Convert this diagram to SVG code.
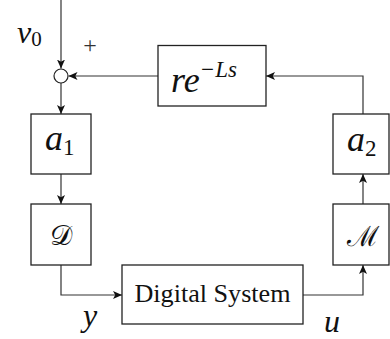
<svg xmlns="http://www.w3.org/2000/svg" width="390" height="339" viewBox="0 0 390 339">
<defs>
<marker id="ah" markerUnits="userSpaceOnUse" viewBox="0 0 9 8" refX="9" refY="4" markerWidth="9" markerHeight="8" orient="auto">
<path d="M0,0 L9,4 L0,8 L2.2,4 Z" fill="#111"/>
</marker>
</defs>
<rect width="390" height="339" fill="#fff"/>
<g id="connectors" fill="none" stroke="#333" stroke-width="1.2">
<path d="M61,0 V68.5" marker-end="url(#ah)"/>
<path d="M363,114 V76 H266" marker-end="url(#ah)"/>
<path d="M158,76 H68.5" marker-end="url(#ah)"/>
<path d="M61,83 V114" marker-end="url(#ah)"/>
<path d="M61,174 V204" marker-end="url(#ah)"/>
<path d="M61,265 V295 H122" marker-end="url(#ah)"/>
<path d="M303,295 H363 V265" marker-end="url(#ah)"/>
<path d="M363,204 V174" marker-end="url(#ah)"/>
</g>
<g id="sum">
<circle cx="61" cy="76" r="7" fill="#fff" stroke="#222" stroke-width="1.2"/>
</g>
<g id="delay">
<rect x="158" y="45.5" width="108" height="60.5" fill="#fff" stroke="#222" stroke-width="1.3"/>
<text x="171" y="92" font-family="Liberation Serif" font-style="italic" font-size="36" fill="#111">re<tspan dy="-15" font-size="23">−Ls</tspan></text>
</g>
<g id="a1">
<rect x="31" y="114" width="60" height="60" fill="#fff" stroke="#222" stroke-width="1.3"/>
<text x="45" y="150" font-family="Liberation Serif" font-style="italic" font-size="36" fill="#111">a<tspan dy="5" font-style="normal" font-size="23">1</tspan></text>
</g>
<g id="D">
<rect x="31" y="204" width="60" height="61" fill="#fff" stroke="#222" stroke-width="1.3"/>
<text x="61" y="245" text-anchor="middle" font-family="Liberation Serif" font-size="28" fill="#111">𝒟</text>
</g>
<g id="a2">
<rect x="333" y="114" width="56" height="60" fill="#fff" stroke="#222" stroke-width="1.3"/>
<text x="347" y="151" font-family="Liberation Serif" font-style="italic" font-size="36" fill="#111">a<tspan dy="5" font-style="normal" font-size="23">2</tspan></text>
</g>
<g id="M">
<rect x="333" y="204" width="56" height="61" fill="#fff" stroke="#222" stroke-width="1.3"/>
<text x="363" y="246" text-anchor="middle" font-family="Liberation Serif" font-size="28" fill="#111">ℳ</text>
</g>
<g id="ds">
<rect x="122" y="265" width="181" height="59" fill="#fff" stroke="#222" stroke-width="1.3"/>
<text x="212.5" y="302" text-anchor="middle" textLength="156" lengthAdjust="spacingAndGlyphs" font-family="Liberation Serif" font-size="25" fill="#111">Digital System</text>
</g>
<g id="labels">
<text x="17" y="43" font-family="Liberation Serif" font-style="italic" font-size="32" fill="#111">v<tspan dy="3" font-style="normal" font-size="21">0</tspan></text>
<text x="90" y="53" text-anchor="middle" font-family="Liberation Serif" font-size="24" fill="#333">+</text>
<text x="83" y="326" font-family="Liberation Serif" font-style="italic" font-size="32" fill="#111">y</text>
<text x="324" y="332" font-family="Liberation Serif" font-style="italic" font-size="32" fill="#111">u</text>
</g>
</svg>
